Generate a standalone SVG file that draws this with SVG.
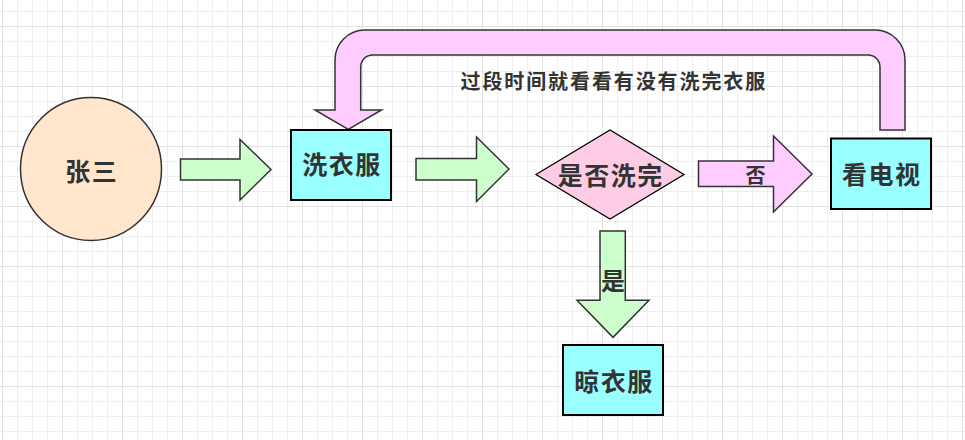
<svg xmlns="http://www.w3.org/2000/svg" width="965" height="440" viewBox="0 0 965 440">
<defs>
<pattern id="minor" patternUnits="userSpaceOnUse" x="2" y="11" width="15" height="15">
<path d="M0.5 0V15M0 0.5H15" stroke="#eeeeee" stroke-width="1" fill="none"/>
</pattern>
<pattern id="major" patternUnits="userSpaceOnUse" x="2" y="26" width="60" height="60">
<path d="M0.5 0V60M0 0.5H60" stroke="#e2e2e2" stroke-width="1" fill="none"/>
</pattern>
</defs>
<style>
.t{font-family:"Noto Sans CJK SC","Noto Sans CJK JP",sans-serif;font-weight:bold;fill:#333333;text-anchor:middle}
.n{font-size:25px;letter-spacing:1.5px}
.box{fill:#99ffff;stroke:#000000;stroke-width:2}
.grn{fill:#ccffcc;stroke:#333333;stroke-width:1.5;stroke-linejoin:miter}
.pnk{fill:#ffccff;stroke:#333333;stroke-width:1.5}
</style>
<rect width="965" height="440" fill="#ffffff"/>
<rect width="965" height="440" fill="url(#minor)"/>
<rect width="965" height="440" fill="url(#major)"/>

<g id="connectors">
<path class="grn" d="M180.5 159H240V139.5L271 169.5L240 200V180H180.5Z"/>
<path class="grn" d="M416 158.5H476.5V137L509 169L476.5 201.5V180H416Z"/>
<path class="pnk" d="M698.5 161H773.5V136L812 174L773.5 212V186.5H698.5Z"/>
<text class="t" x="755.5" y="182.6" font-size="20" style="font-weight:600">否</text>
<path class="pnk" d="M905 130V60A30 30 0 0 0 875 30H365A30 30 0 0 0 335 60V110H315L348.3 129.5L381.5 110H360.7V67A12 12 0 0 1 372.7 55H868A12 12 0 0 1 880 67V130Z"/>
<text class="t" x="460.5" y="88.6" font-size="20" style="text-anchor:start;letter-spacing:1.9px">过段时间就看看有没有洗完衣服</text>
<path class="grn" d="M600 231H625.3V300.3H649L613 337.3L577 300.3H600Z"/>
<text class="t" x="613" y="289.6" font-size="24">是</text>
</g>

<g id="node-zhangsan">
<ellipse cx="91" cy="169" rx="70.5" ry="71.5" fill="#ffe6cc" stroke="#333333" stroke-width="1.5"/>
<text class="t n" x="91.7" y="180.8">张三</text>
</g>

<g id="node-xiyifu">
<rect class="box" x="291" y="130" width="100" height="70"/>
<text class="t n" x="342" y="173.8">洗衣服</text>
</g>

<g id="node-shifouxiwan">
<path d="M536 174.5L610 130L684 174.5L610 219Z" fill="#ffcce6" stroke="#000000" stroke-width="1.3"/>
<text class="t n" x="610.7" y="184.8">是否洗完</text>
</g>

<g id="node-kandianshi">
<rect class="box" x="831" y="138.5" width="100" height="70.5"/>
<text class="t n" x="881.7" y="184">看电视</text>
</g>

<g id="node-liangyifu">
<rect class="box" x="563" y="345" width="100" height="70"/>
<text class="t n" x="614" y="391.2">晾衣服</text>
</g>
</svg>
